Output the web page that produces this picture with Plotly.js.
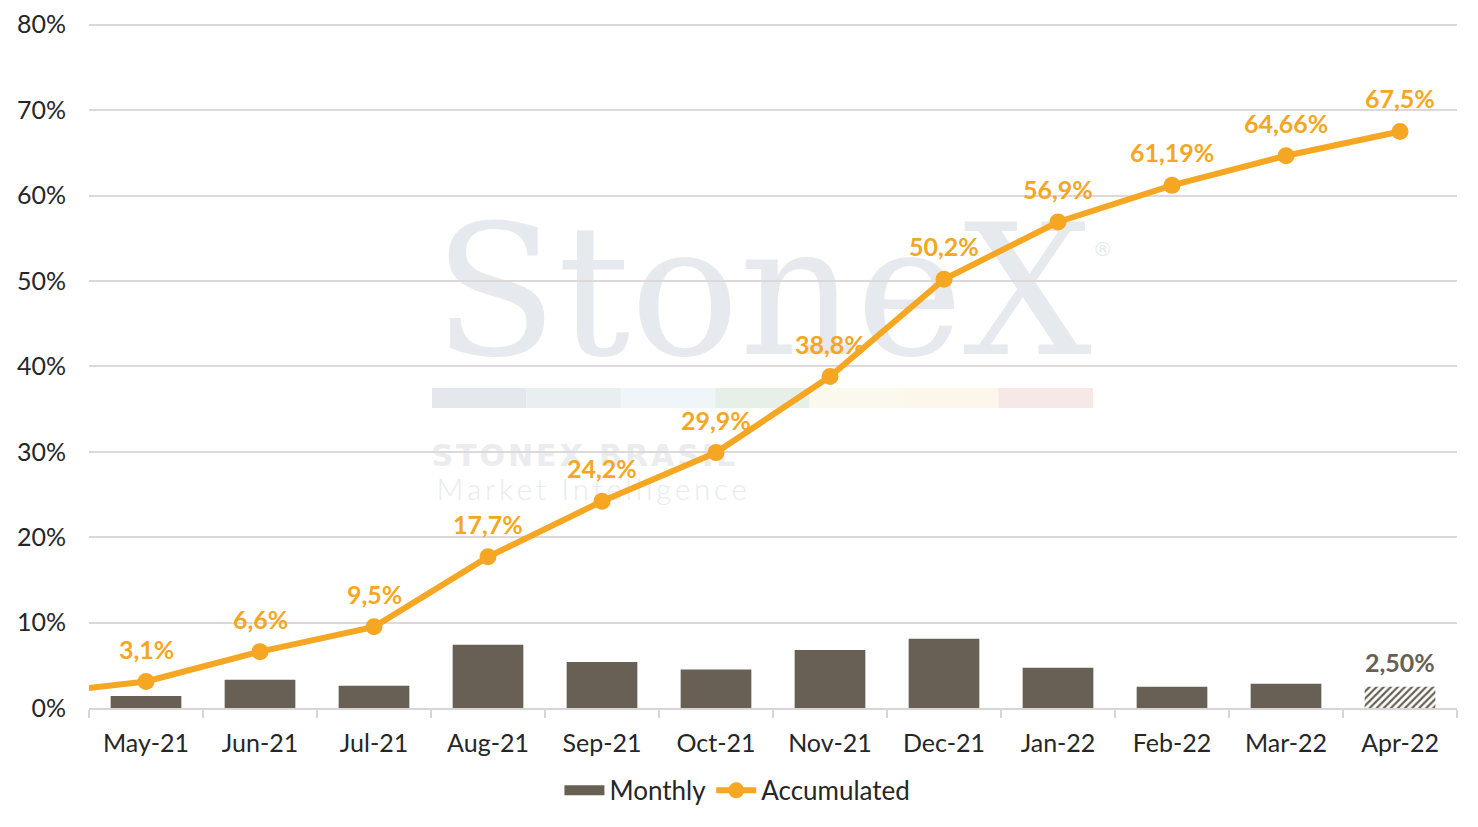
<!DOCTYPE html>
<html>
<head>
<meta charset="utf-8">
<script src="https://cdn.plot.ly/plotly-3.0.1.min.js"></script>
<style>
  html, body { margin: 0; padding: 0; background: #fff; }
  #chart { width: 1478px; height: 827px; }
</style>
</head>
<body>
<div id="chart"></div>
<script>
// months on the x axis
var months = ["May-21", "Jun-21", "Jul-21", "Aug-21", "Sep-21", "Oct-21",
              "Nov-21", "Dec-21", "Jan-22", "Feb-22", "Mar-22", "Apr-22"];
// monthly change, %
var monthly = [1.4, 3.3, 2.6, 7.4, 5.4, 4.5, 6.8, 8.1, 4.7, 2.5, 2.85, 2.5];
// accumulated, %
var accum = [3.1, 6.6, 9.5, 17.7, 24.2, 29.9, 38.8, 50.2, 56.9, 61.19, 64.66, 67.5];
var accumLabels = ["3,1%", "6,6%", "9,5%", "17,7%", "24,2%", "29,9%",
                   "38,8%", "50,2%", "56,9%", "61,19%", "64,66%", "67,5%"];
// previous month (off the chart), only the line coming in from the left edge
var priorAccum = 1.6;
var lastBarLabel = "2,50%";
// y axis ticks
var yTicks = [0, 10, 20, 30, 40, 50, 60, 70, 80];
var yTickText = ["0%", "10%", "20%", "30%", "40%", "50%", "60%", "70%", "80%"];

var orange = "#F5A623";
var brown = "#686055";
var wm = "#E6E9ED";
var fontFam = "Lato";
var barW = 0.62;

var idx = months.map(function (m, i) { return i; });
var last = months.length - 1;

var bars = {
    x: idx.slice(0, last),
    y: monthly.slice(0, last),
    type: "bar",
    name: "Monthly",
    width: barW,
    marker: { color: brown, line: { width: 0 } },
    showlegend: false,
    hoverinfo: "skip"
};

// the last month is still partial: hatched bar
var partialBar = {
    x: [idx[last]],
    y: [monthly[last]],
    type: "bar",
    width: barW,
    marker: {
        color: "#ffffff",
        pattern: { shape: "/", fgcolor: brown, bgcolor: "#ffffff", size: 5, solidity: 0.45 },
        line: { width: 0 }
    },
    showlegend: false,
    hoverinfo: "skip"
};

// legend entry for the bars (wide swatch like the original)
var barKey = {
    x: [null], y: [null],
    type: "scatter", mode: "lines",
    name: "Monthly",
    line: { color: brown, width: 14 },
    hoverinfo: "skip"
};

var leadIn = {
    x: [-1, 0],
    y: [priorAccum, accum[0]],
    type: "scatter",
    mode: "lines",
    line: { color: orange, width: 6 },
    showlegend: false,
    hoverinfo: "skip"
};

var line = {
    x: idx,
    y: accum,
    type: "scatter",
    mode: "lines+markers",
    name: "Accumulated",
    line: { color: orange, width: 6 },
    marker: { color: orange, size: 17 },
    hoverinfo: "skip"
};

var labels = idx.map(function (i) {
    return {
        x: i, y: accum[i], text: accumLabels[i],
        showarrow: false, yshift: 33,
        font: { family: fontFam, size: 25, color: orange, weight: 700 }
    };
});
labels.push({
    x: idx[last], y: monthly[last], text: lastBarLabel,
    showarrow: false, yshift: 25,
    font: { family: fontFam, size: 25, color: brown, weight: 700 }
});

// faint StoneX watermark, kept under the grid
function wmText(txt, xc, yc, size, family, weight, color) {
    return {
        type: "rect", xref: "paper", yref: "paper", layer: "below",
        x0: xc - 0.05, x1: xc + 0.05, y0: yc - 0.02, y1: yc + 0.02,
        line: { width: 0 }, fillcolor: "rgba(0,0,0,0)",
        label: { text: txt, textposition: "middle center",
                 font: { family: family, size: size, weight: weight, color: color } }
    };
}
function spaced(s, sp) { return s.split("").join(sp); }

var stripColors = ["#E4E8EC", "#E9EEF1", "#EFF5F8", "#E6EFE8", "#FBF9EE", "#FDF6EB", "#F7E8E8"];
var shapes = stripColors.map(function (c, i) {
    var w = (0.7339 - 0.2507) / stripColors.length;
    return {
        type: "rect", xref: "paper", yref: "paper", layer: "below",
        x0: 0.2507 + i * w, x1: 0.2507 + (i + 1) * w, y0: 0.4378, y1: 0.467,
        line: { width: 0 }, fillcolor: c
    };
});
shapes.push(wmText("StoneX", 0.4925, 0.627, 181, "DejaVu Serif", 400, wm));
shapes.push(wmText("®", 0.741, 0.672, 20, "DejaVu Sans", 400, wm));
shapes.push(wmText(spaced("STONEX BRASIL", "\u200A"), 0.3613, 0.372, 30, "DejaVu Sans", 700, "#EAECEF"));
shapes.push(wmText(spaced("Market Intelligence", "\u2009"), 0.3675, 0.321, 29.5, fontFam, 300, "#E8EBEE"));

var layout = {
    width: 1478,
    height: 827,
    margin: { l: 89, r: 21, t: 23, b: 119, autoexpand: false },
    paper_bgcolor: "#ffffff",
    plot_bgcolor: "#ffffff",
    font: { family: fontFam, size: 25, color: "#262626" },
    barmode: "overlay",
    showlegend: true,
    legend: {
        orientation: "h", x: 0.474, xanchor: "center", y: -0.086, yanchor: "top",
        font: { family: fontFam, size: 26, color: "#262626" },
        traceorder: "normal", itemwidth: 40, tracegroupgap: 0
    },
    xaxis: {
        range: [-0.5, 11.5],
        tickvals: idx,
        ticktext: months,
        ticks: "",
        ticklabelstandoff: 12,
        showgrid: false,
        zeroline: false,
        showline: true,
        linecolor: "#D9D5D5",
        linewidth: 2,
        tickfont: { family: fontFam, size: 25, color: "#262626" },
        minor: { tick0: -0.5, dtick: 1, ticks: "outside", ticklen: 8,
                 tickcolor: "#D9D5D5", tickwidth: 2, showgrid: false },
        fixedrange: true
    },
    yaxis: {
        range: [0, 80.2],
        tickvals: yTicks,
        ticktext: yTickText,
        showgrid: true,
        gridcolor: "#DDD9D9",
        gridwidth: 2,
        zeroline: false,
        showline: false,
        ticklabelstandoff: 22,
        tickfont: { family: fontFam, size: 25, color: "#262626" },
        fixedrange: true
    },
    annotations: labels,
    shapes: shapes
};

Plotly.newPlot("chart", [bars, partialBar, barKey, leadIn, line], layout,
               { displayModeBar: false, staticPlot: true });
</script>
</body>
</html>
